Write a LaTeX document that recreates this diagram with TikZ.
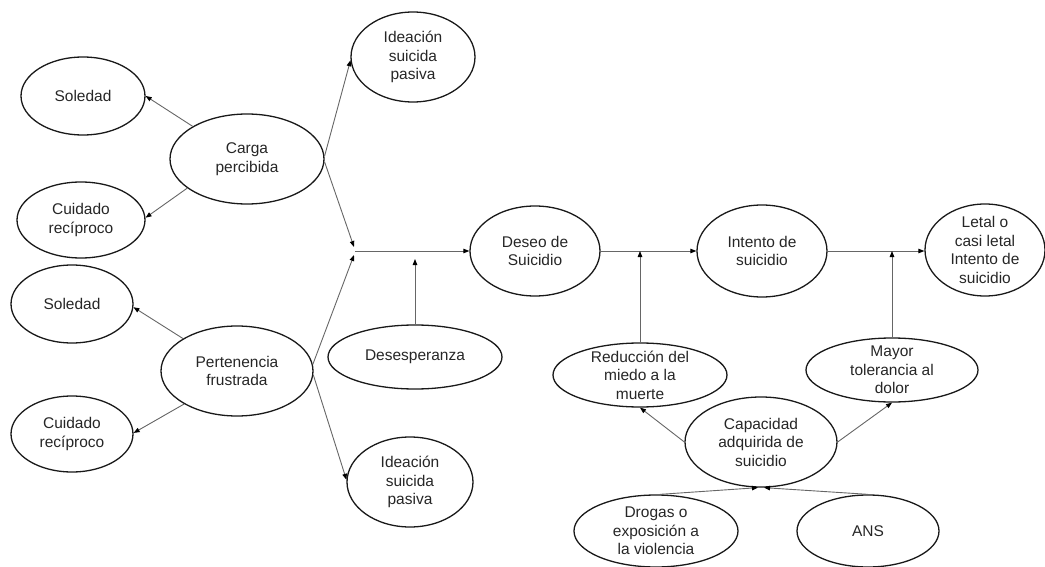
\documentclass[tikz,border=0pt]{standalone}
\usepackage{fontspec}
\setmainfont{Liberation Sans}
\usetikzlibrary{shapes.geometric,arrows.meta}

% an ellipse with its label set on top, so that long labels do not stretch the shape
\newcommand\ovalnode[5]{%
  \node[oval,minimum width=#3pt,minimum height=#4pt] (#1) at (#2) {};
  \node[lbl] at (#1.center) {#5};}

\begin{document}
\begin{tikzpicture}[x=1pt,y=-1pt,
  oval/.style={ellipse,draw=black!90,line width=1.3pt,inner sep=0pt},
  lbl/.style={align=center,inner sep=0pt,text=black!85,
    font=\fontsize{15.5}{18.5}\selectfont},
  link/.style={draw=black!60,line width=0.9pt,
    -{Triangle[length=6pt,width=4.5pt,color=black]}},
  plain/.style={draw=black!60,line width=0.9pt}]

\useasboundingbox (0,0) rectangle (1045,567);

% left cluster
\ovalnode{sol1}{83,96}{124}{78}{Soledad}
\ovalnode{carga}{247,159}{154}{90}{Carga\\percibida}
\ovalnode{cui1}{81,220}{128}{76}{Cuidado\\recíproco}
\ovalnode{ide1}{413,57}{124}{90}{Ideación\\suicida\\pasiva}
\ovalnode{sol2}{72,304}{122}{78}{Soledad}
\ovalnode{pert}{237,371}{152}{90}{Pertenencia\\frustrada}
\ovalnode{cui2}{72,434}{122}{76}{Cuidado\\recíproco}
\ovalnode{ide2}{410,482}{126}{90}{Ideación\\suicida\\pasiva}
\ovalnode{desesp}{415,357}{174}{64}{Desesperanza}

% main chain
\ovalnode{deseo}{535,251}{130}{90}{Deseo de\\Suicidio}
\ovalnode{intento}{762,251}{130}{92}{Intento de\\suicidio}
\ovalnode{letal}{985,250}{120}{92}{Letal o\\casi letal\\Intento de\\suicidio}

% acquired capability cluster
\ovalnode{reduc}{640,375}{174}{64}{Reducción del\\miedo a la\\muerte}
\ovalnode{mayor}{892,370}{172}{64}{Mayor\\tolerancia al\\dolor}
\ovalnode{capac}{761,442}{152}{90}{Capacidad\\adquirida de\\suicidio}
\ovalnode{drogas}{656,531}{164}{72}{Drogas o\\exposición a\\la violencia}
\ovalnode{ans}{868,531}{142}{72}{ANS}

% junction points
\coordinate (j) at (355,251);
\coordinate (ja) at (354,247);
\coordinate (jb) at (354,255);
\coordinate (dtip) at (415,259);
\coordinate (cl) at ([xshift=-3pt]capac.south);
\coordinate (cr) at ([xshift=3pt]capac.south);

% connectors
\draw[link] (carga.149) -- (sol1.0);
\draw[link] (carga.206) -- (cui1.2);
\draw[link] (carga.2) -- (ide1.183);
\draw[link] (carga.-2) -- (ja);
\draw[link] (pert.149) -- (sol2.357);
\draw[link] (pert.212) -- (cui2.1);
\draw[link] (pert.5) -- (jb);
\draw[link] (pert.-3) -- (ide2.178);
\draw[link] (desesp.north) -- (dtip);
\draw[link] (j) -- (deseo.west);
\draw[link] (deseo.east) -- (intento.west);
\draw[link] (intento.east) -- (intento.east -| letal.west);
\draw[link] (reduc.north) -- (reduc.north |- deseo.east);
\draw[link] (mayor.north) -- (mayor.north |- intento.east);
\draw[link] (capac.west) -- (reduc.south);
\draw[link] (capac.east) -- (mayor.south);
\draw[link] ([xshift=4pt]drogas.north) -- (cl);
\draw[link] (ans.north) -- (cr);

\end{tikzpicture}
\end{document}
